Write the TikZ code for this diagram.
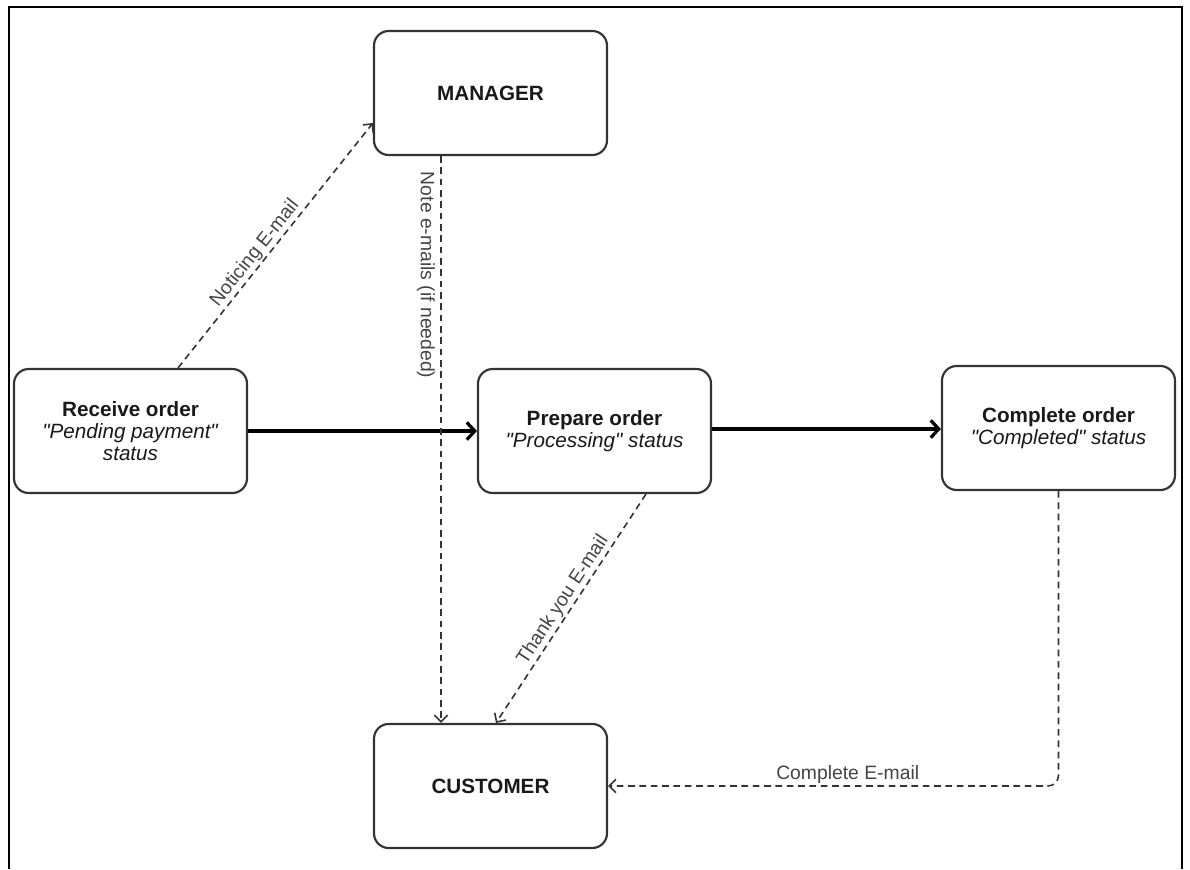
\documentclass[tikz,border=0pt]{standalone}
\usepackage{fontspec}
\setmainfont{Liberation Sans}
\usepackage{xcolor}
\usetikzlibrary{arrows.meta,calc}

\definecolor{linegray}{HTML}{333333}
\definecolor{textgray}{HTML}{444444}
\newcommand{\qtd}[1]{\textquotedbl#1\textquotedbl}

\tikzset{
  box/.style={draw=linegray, line width=1.6pt, rounded corners=11pt,
    minimum width=174.75pt, minimum height=93pt, inner sep=0pt,
    align=center, text=black!90, font=\fontsize{15.5}{16.5}\selectfont},
  flow/.style={draw=black, line width=2.4pt, -{Straight Barb[length=6pt,width=13pt]}},
  mail/.style={draw=linegray, line width=1.2pt, dash pattern=on 5pt off 3.5pt,
    -{Straight Barb[length=5pt,width=10pt]}},
  lbl/.style={font=\fontsize{14.5}{16}\selectfont, text=textgray, inner sep=1pt},
}

\begin{document}
\begin{tikzpicture}[x=0.75pt,y=-0.75pt]
\useasboundingbox (0,0) rectangle (1190,869);
\draw[line width=1.5pt] (9,869) -- (9,7) -- (1182,7) -- (1182,869);

  \node[box] (manager)  at (490.5,93)  {\textbf{MANAGER}};
  \node[box] (receive)  at (130.5,431) {\textbf{Receive order}\\\textit{\qtd{Pending payment}}\\\textit{status}};
  \node[box] (prepare)  at (594.5,431) {\textbf{Prepare order}\\\textit{\qtd{Processing} status}};
  \node[box] (complete) at (1058.5,428) {\textbf{Complete order}\\\textit{\qtd{Completed} status}};
  \node[box] (customer) at (490.5,786) {\textbf{CUSTOMER}};

  \draw[flow] (receive) -- (prepare);
  \draw[flow] ($(prepare.east)+(0,-2)$) -- ($(prepare.east -| complete.west)+(0,-2)$);

  \draw[mail] ($(receive.north)+(47.5,0)$) -- node[lbl, sloped, above, pos=0.44] {Noticing E-mail} ($(manager.west)+(0,30)$);
  \draw[mail] ($(manager.south)+(-49.5,0)$) -- node[lbl, rotate=-90, anchor=north, inner sep=4pt, pos=0.21] {Note e-mails (if needed)} ($(customer.north)+(-49.5,0)$);
  \draw[mail] ($(prepare.south)+(51.5,0)$) -- node[lbl, sloped, above, pos=0.49] {Thank you E-mail} ($(customer.north)+(5.5,0)$);
  \draw[mail, rounded corners=8pt] (complete.south) |- node[lbl, above, pos=0.734] {Complete E-mail} (customer.east);
\end{tikzpicture}
\end{document}
